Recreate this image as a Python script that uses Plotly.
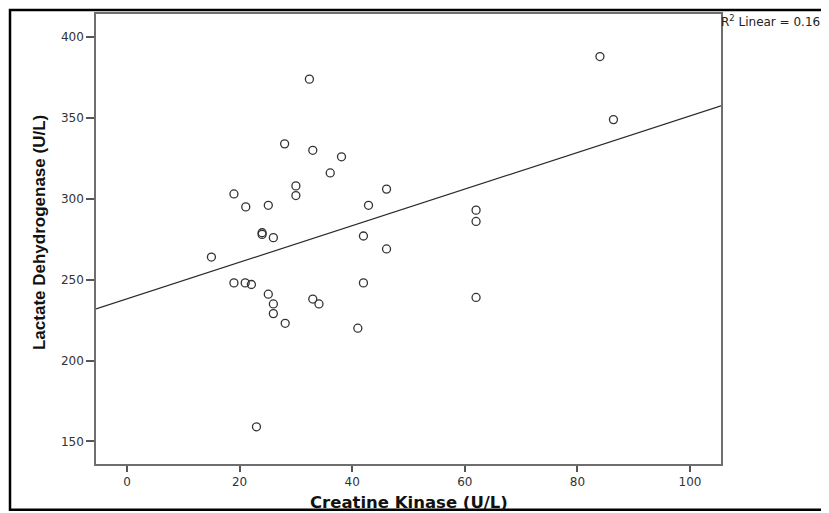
import numpy as np
import plotly.graph_objects as go

# Creatine Kinase (U/L)
ck = [32.4, 28.0, 33.0, 38.1, 36.1, 30.0, 30.0, 19.0, 21.1, 25.1, 46.1, 42.9,
      24.0, 24.0, 26.0, 42.0, 46.1, 15.0,
      19.0, 21.0, 22.1, 25.1, 26.0, 26.0, 28.1, 33.0, 34.1, 42.0, 41.0, 23.0,
      86.4, 62.0, 62.0, 62.0, 84.0]
# Lactate Dehydrogenase (U/L)
ldh = [374, 334, 330, 326, 316, 308, 302, 303, 295, 296, 306, 296,
       279, 278, 276, 277, 269, 264,
       248, 248, 247, 241, 235, 229, 223, 238, 235, 248, 220, 159,
       349, 293, 286, 239, 388]

x_range = [-5.5, 105.5]
y_range = [136, 414.3]
x_ticks = [0, 20, 40, 60, 80, 100]
y_ticks = [150, 200, 250, 300, 350, 400]
r2_label = "R<sup>2</sup> Linear = 0.163"
x_title = "<b>Creatine Kinase (U/L)</b>"
y_title = "<b>Lactate Dehydrogenase (U/L)</b>"

slope, intercept = np.polyfit(ck, ldh, 1)
line_x = np.array(x_range)
line_y = intercept + slope * line_x

ARIAL = "Arial, 'Liberation Sans', sans-serif"
DEJAVU = "'DejaVu Sans', sans-serif"

fig = go.Figure()
fig.add_trace(go.Scatter(
    x=line_x, y=line_y, mode="lines",
    line=dict(color="#2a2a2a", width=1.2), hoverinfo="skip", showlegend=False))
fig.add_trace(go.Scatter(
    x=ck, y=ldh, mode="markers",
    marker=dict(symbol="circle-open", size=8, color="#333333", line=dict(width=1.3)),
    showlegend=False))

axis_common = dict(
    showgrid=False, zeroline=False, showline=True, mirror=True,
    linecolor="#6e6e6e", linewidth=1.6,
    ticks="outside", tickwidth=1.5, tickcolor="#555555",
    tickfont=dict(family=DEJAVU, size=12, color="#333333"),
)

fig.update_xaxes(range=x_range, tickvals=x_ticks, ticklen=6, **axis_common)
fig.update_yaxes(range=y_range, tickvals=y_ticks, ticklen=8, **axis_common)

# page offset of the figure inside the browser page (body margin)
OFF = 8
W, H = 821, 505
L, T = 96 - OFF, 12 - OFF
R = W - (721 - OFF)
B = H - (464 - OFF)
pw, ph = W - L - R, H - T - B

def px(xp):
    return (xp - OFF - L) / pw

def py(yp):
    return (H - B - (yp - OFF)) / ph

fig.add_shape(type="rect", xref="paper", yref="paper",
              x0=px(10), x1=px(850), y0=py(510), y1=py(8),
              line=dict(color="#000000", width=2.5), layer="below")

fig.add_annotation(text=r2_label, xref="paper", yref="paper",
                   x=px(719), y=py(19), xanchor="left", yanchor="middle",
                   showarrow=False, font=dict(family=DEJAVU, size=12, color="#222222"))

fig.add_annotation(text=x_title, xref="paper", yref="paper",
                   x=px(409), y=py(503), xanchor="center", yanchor="middle",
                   showarrow=False, font=dict(family=DEJAVU, size=16.5, color="#111111"))

fig.add_annotation(text=y_title, xref="paper", yref="paper", textangle=-90,
                   x=px(39), y=py(232), xanchor="center", yanchor="middle",
                   showarrow=False, font=dict(family=ARIAL, size=17, color="#111111"))

fig.update_layout(
    width=W, height=H,
    margin=dict(l=L, r=R, t=T, b=B),
    paper_bgcolor="white", plot_bgcolor="white",
)

fig.write_html("out.html")
